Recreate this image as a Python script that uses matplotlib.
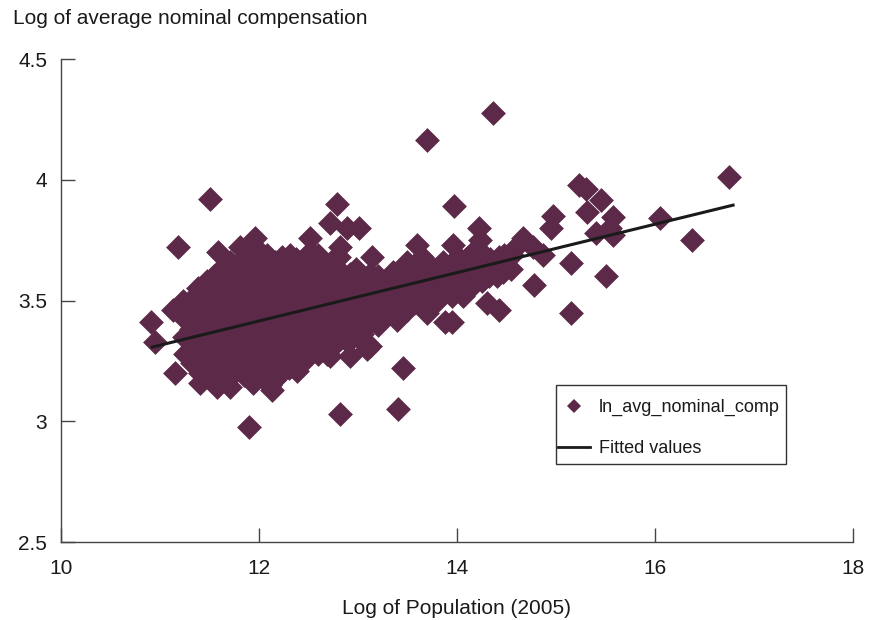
import matplotlib
matplotlib.use("Agg")
import matplotlib.pyplot as plt
from matplotlib.lines import Line2D
from matplotlib.patches import Rectangle

plt.rcParams['font.family'] = ['Liberation Sans', 'DejaVu Sans']

# ---- data ----
# outlying / edge points
edge_x = [11.51, 11.18, 11.59, 10.91, 10.95, 11.15, 11.90, 11.96, 11.81, 11.47,
          11.23, 11.13, 11.40, 11.58, 11.71, 11.94, 12.79, 12.72, 12.89, 13.01,
          13.14, 12.52, 12.82, 12.13, 12.38, 12.69, 12.92, 13.09, 13.40, 13.46,
          12.11, 12.72, 13.07, 13.04, 13.39, 13.70, 13.88, 13.97, 14.97, 14.95,
          14.22, 13.96, 13.60, 14.67, 14.87, 15.15, 14.78, 15.15, 14.43, 14.30,
          14.06, 13.95, 13.70, 14.36, 16.75, 16.05, 16.37, 15.23, 15.30, 15.46,
          15.31, 15.58, 15.55, 15.41, 15.58, 15.51, 14.77, 14.57, 14.43, 14.23,
          12.82, 13.35, 13.12]
edge_y = [3.92, 3.72, 3.70, 3.41, 3.33, 3.20, 2.975, 3.76, 3.72, 3.58,
          3.50, 3.46, 3.16, 3.14, 3.14, 3.16, 3.90, 3.82, 3.80, 3.80,
          3.68, 3.76, 3.03, 3.13, 3.21, 3.28, 3.27, 3.30, 3.05, 3.22,
          3.15, 3.27, 3.32, 3.36, 3.42, 3.45, 3.41, 3.89, 3.85, 3.80,
          3.80, 3.73, 3.73, 3.76, 3.69, 3.655, 3.565, 3.45, 3.46, 3.49,
          3.52, 3.41, 4.165, 4.275, 4.01, 3.84, 3.75, 3.98, 3.96, 3.915,
          3.865, 3.845, 3.80, 3.78, 3.77, 3.60, 3.72, 3.71, 3.68, 3.75,
          3.72, 3.62, 3.31]

# dense core of the cloud
core_x = [11.25, 11.24, 11.26, 11.25,
          11.40, 11.41, 11.39, 11.40, 11.42, 11.38,
          11.55, 11.56, 11.54, 11.55, 11.57, 11.53, 11.55,
          11.70, 11.71, 11.69, 11.70, 11.72, 11.68, 11.70, 11.71,
          11.85, 11.86, 11.84, 11.85, 11.87, 11.83, 11.85, 11.86,
          12.00, 12.01, 11.99, 12.00, 12.02, 11.98, 12.00, 12.01,
          12.15, 12.16, 12.14, 12.15, 12.17, 12.13, 12.15, 12.16,
          12.30, 12.31, 12.29, 12.30, 12.32, 12.28, 12.30, 12.31,
          12.45, 12.46, 12.44, 12.45, 12.47, 12.43, 12.45,
          12.60, 12.61, 12.59, 12.60, 12.62, 12.58, 12.60,
          12.75, 12.76, 12.74, 12.75, 12.77, 12.73,
          12.90, 12.91, 12.89, 12.90, 12.92,
          13.05, 13.06, 13.04, 13.05,
          13.20, 13.21, 13.19, 13.20,
          13.35, 13.36, 13.34,
          13.50, 13.51, 13.49, 13.50,
          13.65, 13.66, 13.64, 13.65,
          13.80, 13.81, 13.79,
          13.95, 13.96, 13.94,
          14.10, 14.11, 14.09,
          14.25, 14.26, 14.24,
          14.40, 14.41,
          14.55, 14.56,
          11.32, 11.33, 11.31, 11.32, 11.33,
          11.47, 11.48, 11.46, 11.47, 11.48, 11.46,
          11.62, 11.63, 11.61, 11.62, 11.63, 11.61, 11.62,
          11.77, 11.78, 11.76, 11.77, 11.78, 11.76, 11.77,
          11.92, 11.93, 11.91, 11.92, 11.93, 11.91, 11.92, 11.93,
          12.07, 12.08, 12.06, 12.07, 12.08, 12.06, 12.07, 12.08,
          12.22, 12.23, 12.21, 12.22, 12.23, 12.21, 12.22, 12.23,
          12.37, 12.38, 12.36, 12.37, 12.38, 12.36, 12.37,
          12.52, 12.53, 12.51, 12.52, 12.53, 12.51, 12.52,
          12.67, 12.68, 12.66, 12.67, 12.68, 12.66,
          12.82, 12.83, 12.81, 12.82, 12.83, 12.81,
          12.97, 12.98, 12.96, 12.97, 12.98,
          13.12, 13.13, 13.11, 13.12,
          13.27, 13.28, 13.26,
          13.42, 13.43, 13.41,
          13.57, 13.58, 13.56,
          13.72, 13.73, 13.71,
          13.87, 13.88, 13.86,
          14.02, 14.03, 14.01,
          14.17, 14.18, 14.16,
          14.32, 14.33,
          14.47, 14.48]
core_y = [3.28, 3.35, 3.42, 3.48,
          3.20, 3.27, 3.34, 3.41, 3.48, 3.55,
          3.19, 3.26, 3.33, 3.40, 3.47, 3.54, 3.60,
          3.18, 3.25, 3.32, 3.39, 3.46, 3.53, 3.60, 3.66,
          3.19, 3.26, 3.33, 3.40, 3.47, 3.54, 3.61, 3.68,
          3.20, 3.27, 3.34, 3.41, 3.48, 3.55, 3.62, 3.70,
          3.17, 3.24, 3.31, 3.38, 3.45, 3.52, 3.59, 3.66,
          3.22, 3.29, 3.36, 3.43, 3.50, 3.57, 3.64, 3.69,
          3.25, 3.32, 3.39, 3.46, 3.53, 3.60, 3.67,
          3.28, 3.35, 3.42, 3.49, 3.56, 3.63, 3.69,
          3.31, 3.38, 3.45, 3.52, 3.59, 3.66,
          3.33, 3.40, 3.47, 3.54, 3.61,
          3.38, 3.45, 3.52, 3.59,
          3.40, 3.47, 3.54, 3.60,
          3.44, 3.51, 3.57,
          3.46, 3.53, 3.60, 3.66,
          3.48, 3.55, 3.62, 3.68,
          3.50, 3.57, 3.63,
          3.52, 3.58, 3.65,
          3.55, 3.61, 3.67,
          3.58, 3.64, 3.70,
          3.60, 3.66,
          3.63, 3.69,
          3.24, 3.31, 3.38, 3.45, 3.51,
          3.23, 3.30, 3.37, 3.44, 3.51, 3.57,
          3.22, 3.29, 3.36, 3.43, 3.50, 3.57, 3.63,
          3.22, 3.29, 3.36, 3.43, 3.50, 3.57, 3.64,
          3.23, 3.30, 3.37, 3.44, 3.51, 3.58, 3.65, 3.72,
          3.20, 3.27, 3.34, 3.41, 3.48, 3.55, 3.62, 3.69,
          3.20, 3.27, 3.34, 3.41, 3.48, 3.55, 3.62, 3.68,
          3.25, 3.32, 3.39, 3.46, 3.53, 3.60, 3.67,
          3.28, 3.35, 3.42, 3.49, 3.56, 3.63, 3.70,
          3.31, 3.38, 3.45, 3.52, 3.59, 3.66,
          3.34, 3.41, 3.48, 3.55, 3.62, 3.68,
          3.36, 3.43, 3.50, 3.57, 3.63,
          3.41, 3.48, 3.55, 3.61,
          3.43, 3.50, 3.57,
          3.47, 3.54, 3.61,
          3.49, 3.56, 3.63,
          3.51, 3.58, 3.65,
          3.53, 3.60, 3.66,
          3.55, 3.62, 3.68,
          3.57, 3.64, 3.70,
          3.60, 3.67,
          3.62, 3.69]

# fitted regression line (end points)
fit_x = [10.92, 16.79]
fit_y = [3.307, 3.895]

x_ticks = [10, 12, 14, 16, 18]
y_ticks = [2.5, 3, 3.5, 4, 4.5]
y_tick_labels = ['2.5', '3', '3.5', '4', '4.5']

# ---- drawing ----
point_color = '#5c2a48'
text_color = '#1a1a1a'
fig = plt.figure(figsize=(8.74, 6.2), dpi=100)
ax = fig.add_axes([0.0698, 0.1258, 0.906, 0.779])

ax.scatter(core_x + edge_x, core_y + edge_y, marker='D', s=160,
           color=point_color, linewidths=0, zorder=2)
ax.plot(fit_x, fit_y, color='#1a1a1a', lw=2.2, zorder=3)

ax.set_xlim(10, 18)
ax.set_ylim(2.5, 4.5)
ax.set_xticks(x_ticks)
ax.set_xticklabels([str(t) for t in x_ticks])
ax.set_yticks(y_ticks)
ax.set_yticklabels(y_tick_labels)

for s in ['top', 'right']:
    ax.spines[s].set_visible(False)
for s in ['left', 'bottom']:
    ax.spines[s].set_color('#444444')
    ax.spines[s].set_linewidth(1.0)

ax.tick_params(axis='both', direction='in', length=10, width=1.0,
               color='#444444', labelsize=15, labelcolor=text_color)
ax.tick_params(axis='x', pad=12)
ax.tick_params(axis='y', pad=10)

ax.set_xlabel('Log of Population (2005)', fontsize=15, color=text_color,
              labelpad=15)
fig.text(0.015, 0.970, 'Log of average nominal compensation', fontsize=15,
         color=text_color, ha='left', va='center')

handles = [Line2D([], [], marker='D', color=point_color, lw=0, markersize=7.5,
                  markeredgewidth=0),
           Line2D([], [], color='#1a1a1a', lw=2)]
leg = ax.legend(handles, ['ln_avg_nominal_comp', 'Fitted values'],
                loc='upper left', bbox_to_anchor=(0.6275, 0.296),
                borderaxespad=0, frameon=False, borderpad=0,
                fontsize=13, handlelength=1.8, handletextpad=0.45,
                labelspacing=1.33)
for t in leg.get_texts():
    t.set_color(text_color)
ax.add_patch(Rectangle((0.625, 0.1615), 0.29, 0.1635, transform=ax.transAxes,
                       fill=False, edgecolor='#333333', lw=1.0,
                       clip_on=False, zorder=5))

fig.savefig('out.png', dpi=100)
